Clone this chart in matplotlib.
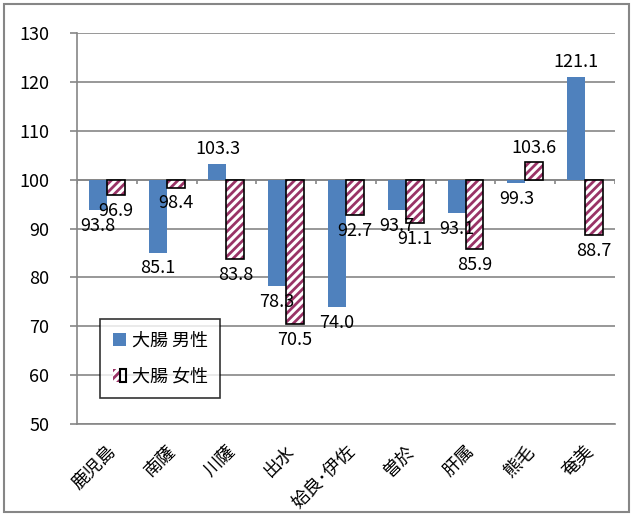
import numpy as np
import matplotlib
matplotlib.use('Agg')
from matplotlib import pyplot as plt
from matplotlib.patches import Patch, Rectangle
from matplotlib.legend_handler import HandlerTuple

plt.rcParams['font.family'] = ['Noto Sans CJK JP', 'DejaVu Sans']
plt.rcParams['hatch.linewidth'] = 2.0

areas = ['鹿児島', '南薩', '川薩', '出水', '姶良･伊佐', '曽於', '肝属', '熊毛', '奄美']
male = [93.8, 85.1, 103.3, 78.3, 74.0, 93.7, 93.1, 99.3, 121.1]
female = [96.9, 98.4, 83.8, 70.5, 92.7, 91.1, 85.9, 103.6, 88.7]
base = 100

blue = '#4F81BD'
pink = '#993366'
gray = '#868686'

fig = plt.figure(figsize=(6.33, 5.16), dpi=100)
ax = fig.add_axes([0.1216, 0.178, 0.85, 0.758])

x = np.arange(len(areas))
w = 0.3
m = np.array(male)
f = np.array(female)

ax.bar(x - w / 2, m - base, w, bottom=base, color=blue, zorder=3)
ax.bar(x + w / 2, f - base, w, bottom=base, color='white', edgecolor=pink,
       hatch='////', linewidth=0, zorder=3)
ax.bar(x + w / 2, f - base, w, bottom=base, fill=False, edgecolor='black',
       linewidth=1.2, zorder=4)

for xs, vals in [(x - w / 2, m), (x + w / 2, f)]:
    for xi, v in zip(xs, vals):
        up = v >= base
        ax.annotate(f'{v:.1f}', (xi, v), xytext=(0, 4 if up else -5),
                    textcoords='offset points', ha='center',
                    va='bottom' if up else 'top', fontsize=13, zorder=6)

ax.set_ylim(50, 130)
ax.set_xlim(-0.5, len(areas) - 0.5)
ax.set_yticks(np.arange(50, 131, 10))
ax.yaxis.grid(True, color=gray, linewidth=1.2, zorder=0)
ax.set_axisbelow(True)

# category axis crosses at 100
ax.axhline(base, color=gray, linewidth=1.2, zorder=2)
ax.vlines(np.arange(len(areas) + 1) - 0.5, base - 0.9, base, color=gray,
          linewidth=1.2, zorder=2)

ax.set_xticks(x)
ax.set_xticklabels(areas, rotation=45, ha='right', rotation_mode='anchor',
                   fontsize=13)
ax.tick_params(axis='x', length=0, pad=13)
ax.tick_params(axis='y', length=5, color=gray, width=1.2, labelsize=13, pad=15)

for s in ['top', 'right']:
    ax.spines[s].set_visible(False)
for s in ['left', 'bottom']:
    ax.spines[s].set_color(gray)
    ax.spines[s].set_linewidth(1.2)

h_male = Patch(facecolor=blue)
h_fem = (Patch(facecolor='white', edgecolor=pink, hatch='////', linewidth=0),
         Patch(fill=False, edgecolor='black', linewidth=1.5))
leg = ax.legend([h_male, h_fem], ['大腸 男性', '大腸 女性'],
                handler_map={tuple: HandlerTuple(ndivide=None, pad=0)},
                loc='lower left', bbox_to_anchor=(0.043, 0.066),
                fontsize=13, frameon=True, fancybox=False, edgecolor='black',
                handlelength=0.75, handleheight=0.75, handletextpad=0.3,
                labelspacing=1.0, borderpad=0.7, borderaxespad=0)
leg.get_frame().set_linewidth(1.2)
leg.set_zorder(5)

fig.patches.append(Rectangle((0.006, 0.008), 0.988, 0.984, transform=fig.transFigure,
                             fill=False, edgecolor=gray, linewidth=1.5))

fig.savefig('out.png', dpi=100)
